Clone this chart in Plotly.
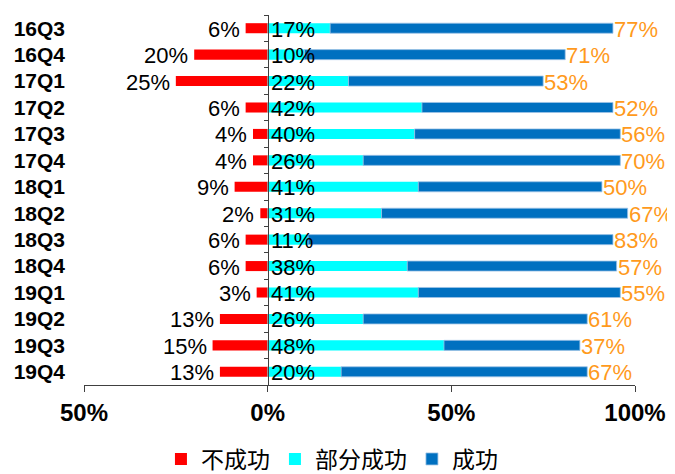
import plotly.graph_objects as go

categories = ["16Q3", "16Q4", "17Q1", "17Q2", "17Q3", "17Q4", "18Q1",
              "18Q2", "18Q3", "18Q4", "19Q1", "19Q2", "19Q3", "19Q4"]
fail = [6, 20, 25, 6, 4, 4, 9, 2, 6, 6, 3, 13, 15, 13]
partial = [17, 10, 22, 42, 40, 26, 41, 31, 11, 38, 41, 26, 48, 20]
success = [77, 71, 53, 52, 56, 70, 50, 67, 83, 57, 55, 61, 37, 67]

x_ticks = [-50, 0, 50, 100]
x_tick_text = ["50%", "0%", "50%", "100%"]
x_range = [-50, 100]

FONT = "Liberation Sans, Arial, Noto Sans CJK SC, sans-serif"
CJK = "Noto Sans CJK SC, Liberation Sans, sans-serif"
RED = "#FF0000"
CYAN = "#00FFFF"
BLUE = "#0070C0"
ORANGE = "#FF9A1C"
LABEL_SIZE = 22

fig = go.Figure()
fig.add_trace(go.Bar(y=categories, x=[-v for v in fail], orientation="h",
                     name="不成功", marker=dict(color=RED, line=dict(width=0)),
                     width=0.38, hoverinfo="skip"))
fig.add_trace(go.Bar(y=categories, x=partial, orientation="h",
                     name="部分成功", marker=dict(color=CYAN, line=dict(width=0)),
                     width=0.38, hoverinfo="skip"))
fig.add_trace(go.Bar(y=categories, x=success, orientation="h",
                     name="成功", marker=dict(color=BLUE, line=dict(color="#9DC3E6", width=0.8)),
                     width=0.38, hoverinfo="skip"))
# dummy trace for the zero-axis with boundary ticks
fig.add_trace(go.Scatter(y=categories, x=[0] * len(categories), mode="none",
                         yaxis="y2", showlegend=False, hoverinfo="skip"))

# data labels
for c, f, p, s in zip(categories, fail, partial, success):
    fig.add_annotation(x=-f, y=c, text=f"{f}%", showarrow=False, xanchor="right",
                       xshift=-4, yshift=-1,
                       font=dict(family=FONT, size=LABEL_SIZE, color="#000000"))
    fig.add_annotation(x=0, y=c, text=f"{p}%", showarrow=False, xanchor="left",
                       xshift=1, yshift=-1,
                       font=dict(family=FONT, size=LABEL_SIZE, color="#000000"))
    fig.add_annotation(x=p + s, y=c, text=f"{s}%", showarrow=False, xanchor="left",
                       xshift=-1, yshift=-1,
                       font=dict(family=FONT, size=LABEL_SIZE, color=ORANGE))

zero_pos = (0 - x_range[0]) / (x_range[1] - x_range[0])

fig.update_layout(
    width=675, height=490,
    margin=dict(l=76, r=48, t=7, b=113),
    barmode="relative",
    plot_bgcolor="white", paper_bgcolor="white",
    font=dict(family=FONT, color="#000000"),
    xaxis=dict(range=x_range, tickvals=x_ticks, ticktext=x_tick_text,
               showgrid=False, zeroline=False, showline=True, linecolor="#404040",
               linewidth=1.2, ticks="outside", ticklen=6, tickcolor="#404040",
               tickfont=dict(family=FONT, size=24, color="#000000", weight="bold"),
               ticklabelstandoff=0, fixedrange=True, automargin=False),
    yaxis=dict(type="category", categoryarray=categories, range=[13.5, -0.5],
               showgrid=False, zeroline=False, showline=False, ticks="",
               tickfont=dict(family=FONT, size=21, color="#000000", weight="bold"),
               ticklabelstandoff=18, fixedrange=True, automargin=False),
    yaxis2=dict(type="category", categoryarray=categories, range=[13.5, -0.5],
                overlaying="y", anchor="free", position=zero_pos, side="left",
                showticklabels=False, showgrid=False, zeroline=False,
                showline=True, linecolor="#404040", linewidth=1.2,
                ticks="outside", tickson="boundaries", ticklen=4, tickcolor="#404040",
                fixedrange=True),
    legend=dict(orientation="h", x=0.45, xanchor="center", y=-0.2, yanchor="middle",
                font=dict(family=CJK, size=23, color="#000000"),
                itemwidth=30, traceorder="normal"),
    showlegend=True,
)

fig.write_html("out.html")
